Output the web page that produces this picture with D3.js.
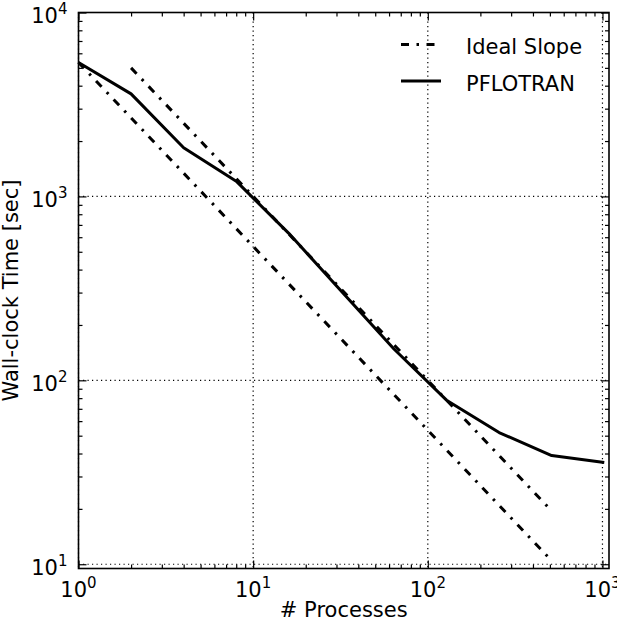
<!DOCTYPE html>
<html><head><meta charset="utf-8">
<script src="https://cdn.jsdelivr.net/npm/d3@7"></script>
<style>body{margin:0;background:#fff}svg{display:block}text{font-family:"DejaVu Sans",sans-serif;fill:#000}</style>
</head><body><svg id="c" width="617" height="628"></svg>
<script>
const processes = [1, 2, 4, 8, 16, 32, 64, 128, 256, 512, 1024];
const pflotranTime = [5350, 3610, 1840, 1210, 630, 305, 148, 78, 52, 39, 35.7];
const idealLowerProcs = [1, 512];
const idealLowerTime = [5350, 10.45];
const idealUpperProcs = [2, 512];
const idealUpperTime = [5000, 19.5];
const xLimits = [1, 1090];
const yLimits = [9.48, 10000];
const xMajorTicks = [1, 10, 100, 1000];
const yMajorTicks = [10, 100, 1000, 10000];
const legendLabels = ["Ideal Slope", "PFLOTRAN"];

const svg = d3.select("#c");
const L = 78.5, R = 609, T = 12.5, B = 568.5;
const FS = 21;
const x = d3.scaleLog().domain(xLimits).range([L, R]);
const y = d3.scaleLog().domain(yLimits).range([B, T]);

function minors(dom){
  const out=[];
  for(let e=Math.floor(Math.log10(dom[0])); e<=Math.ceil(Math.log10(dom[1])); e++){
    for(let m=2;m<=9;m++){const v=m*Math.pow(10,e); if(v>=dom[0]&&v<=dom[1]) out.push(v);}
  }
  return out;
}
const g = svg.append("g");
// grid
g.selectAll(".gx").data(xMajorTicks).join("line")
  .attr("x1",d=>x(d)).attr("x2",d=>x(d)).attr("y1",T).attr("y2",B)
  .attr("stroke","#000").attr("stroke-width",1.2).attr("stroke-dasharray","1.2,3.3");
g.selectAll(".gy").data(yMajorTicks).join("line")
  .attr("y1",d=>y(d)).attr("y2",d=>y(d)).attr("x1",L).attr("x2",R)
  .attr("stroke","#000").attr("stroke-width",1.2).attr("stroke-dasharray","1.2,3.3");

// ticks via axes (inside)
function addAxis(axisFn, scale, vals, size, transform){
  const a = axisFn(scale).tickValues(vals).tickSize(size).tickFormat("");
  const gg = svg.append("g").attr("transform",transform).call(a);
  gg.select(".domain").remove();
  gg.selectAll(".tick line").attr("stroke","#000").attr("stroke-width",1.2);
}
const xm = minors(xLimits), ym = minors(yLimits);
addAxis(d3.axisTop, x, xMajorTicks, 8, `translate(0,${B})`);
addAxis(d3.axisTop, x, xm, 4, `translate(0,${B})`);
addAxis(d3.axisBottom, x, xMajorTicks, 8, `translate(0,${T})`);
addAxis(d3.axisBottom, x, xm, 4, `translate(0,${T})`);
addAxis(d3.axisRight, y, yMajorTicks, 8, `translate(${L},0)`);
addAxis(d3.axisRight, y, ym, 4, `translate(${L},0)`);
addAxis(d3.axisLeft, y, yMajorTicks, 8, `translate(${R},0)`);
addAxis(d3.axisLeft, y, ym, 4, `translate(${R},0)`);

// lines
const line = d3.line().x(d=>x(d[0])).y(d=>y(d[1]));
const dd = "8,7.5,2.5,7.5";
svg.append("path").attr("d",line(d3.zip(idealLowerProcs,idealLowerTime)))
  .attr("fill","none").attr("stroke","#000").attr("stroke-width",3).attr("stroke-dasharray",dd);
svg.append("path").attr("d",line(d3.zip(idealUpperProcs,idealUpperTime)))
  .attr("fill","none").attr("stroke","#000").attr("stroke-width",3).attr("stroke-dasharray",dd);
svg.append("path").attr("d",line(d3.zip(processes,pflotranTime)))
  .attr("fill","none").attr("stroke","#000").attr("stroke-width",3).attr("stroke-linejoin","round");

// frame
svg.append("rect").attr("x",L).attr("y",T).attr("width",R-L).attr("height",B-T)
  .attr("fill","none").attr("stroke","#000").attr("stroke-width",1.6);

// tick labels
function pow10(sel, d){
  const e = Math.round(Math.log10(d));
  sel.append("tspan").text("10");
  sel.append("tspan").attr("dy",-9).attr("font-size",15).text(e);
}
svg.selectAll(".xl").data(xMajorTicks).join("text")
  .attr("x",d=>x(d)).attr("y",B+28).attr("text-anchor","middle").attr("font-size",FS)
  .each(function(d){pow10(d3.select(this),d);});
svg.selectAll(".yl").data(yMajorTicks).join("text")
  .attr("x",L-11).attr("y",d=>y(d)+10.5).attr("text-anchor","end").attr("font-size",FS)
  .each(function(d){pow10(d3.select(this),d);});

// axis labels
svg.append("text").attr("x",(L+R)/2).attr("y",617).attr("text-anchor","middle").attr("font-size",FS).text("# Processes");
svg.append("text").attr("transform",`translate(18,${(T+B)/2}) rotate(-90)`).attr("text-anchor","middle").attr("font-size",FS).text("Wall-clock Time [sec]");

// legend
const ly = [44.5, 81];
svg.append("line").attr("x1",401).attr("x2",441).attr("y1",ly[0]).attr("y2",ly[0])
  .attr("stroke","#000").attr("stroke-width",3).attr("stroke-dasharray",dd);
svg.append("line").attr("x1",401).attr("x2",441).attr("y1",ly[1]).attr("y2",ly[1])
  .attr("stroke","#000").attr("stroke-width",3);
svg.selectAll(".lg").data(legendLabels).join("text")
  .attr("x",466).attr("y",(d,i)=>ly[i]+9.5).attr("font-size",FS).text(d=>d);
</script></body></html>
